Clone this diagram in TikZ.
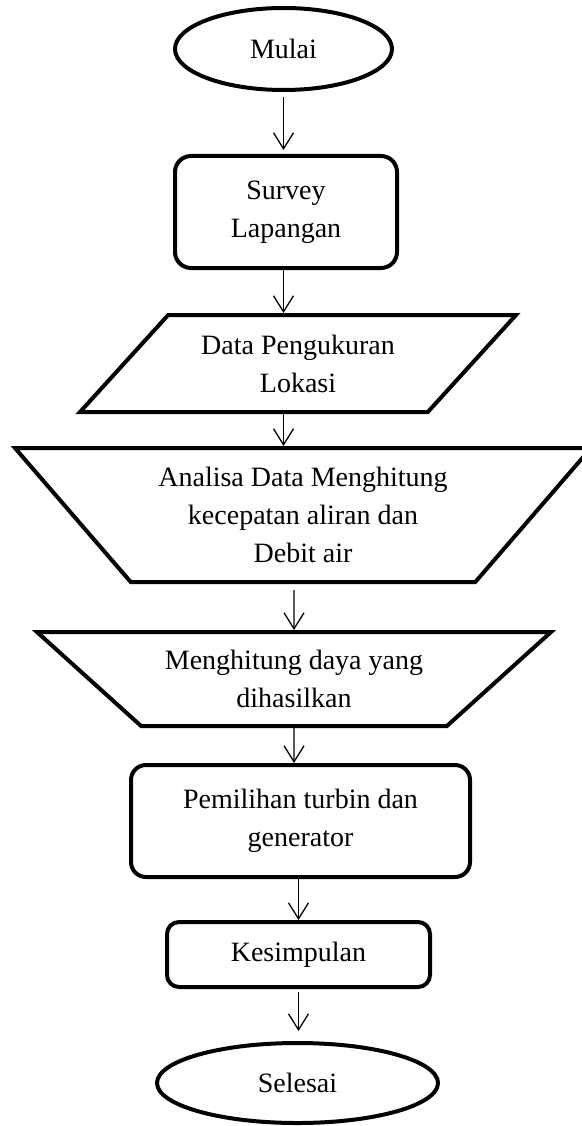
\documentclass[tikz,border=0pt]{standalone}
\usepackage{fontspec}
\setmainfont{Liberation Serif}
\usetikzlibrary{shapes.geometric,arrows.meta}
\tikzset{
  terminal/.style={ellipse,draw,line width=4pt,inner sep=0pt},
  proses/.style={rectangle,draw,line width=4pt,rounded corners=16pt,inner sep=0pt,align=center},
  miring/.style={trapezium,draw,line width=4pt,inner sep=0pt,trapezium stretches body,align=center},
  panah/.style={-{Straight Barb[length=16pt,width=20pt]},line width=1.3pt}
}
\begin{document}
\begin{tikzpicture}[x=1pt,y=-1pt,font=\fontsize{28}{38}\selectfont]
\useasboundingbox (0,0) rectangle (581,1126);
\node[terminal,minimum width=217pt,minimum height=82pt] (mulai) at (283.5,49) {Mulai};
\node[proses,minimum width=222pt,minimum height=112pt] (survey) at (286,212) {Survey\\Lapangan};
\node[miring,trapezium left angle=33.2,trapezium right angle=146.8,
  minimum width=436pt,minimum height=97pt] (data) at (298,363.5) {Data Pengukuran\\Lokasi};
\node[miring,trapezium left angle=140.4,trapezium right angle=140.4,
  minimum width=576pt,minimum height=134pt] (analisa) at (303,515) {Analisa Data Menghitung\\kecepatan aliran dan\\Debit air};
\node[miring,trapezium left angle=151,trapezium right angle=151,
  minimum width=514pt,minimum height=94pt] (daya) at (294,679) {Menghitung daya yang\\dihasilkan};
\node[proses,rounded corners=15pt,minimum width=339pt,minimum height=112pt] (pilih) at (300.5,821) {Pemilihan turbin dan\\generator};
\node[proses,rounded corners=12pt,minimum width=263pt,minimum height=65pt] (simpul) at (298.5,954.5) {Kesimpulan};
\node[terminal,minimum width=281pt,minimum height=80pt] (selesai) at (297.5,1083) {Selesai};

\draw[panah,shorten <=5pt,shorten >=4pt](mulai.south)--(mulai.south |- survey.north);
\draw[panah](survey.south -| mulai)--(mulai |- data.north);
\draw[panah](data.south -| mulai)--(mulai |- analisa.north);
\draw[panah,shorten <=6pt](analisa.south -| daya)--(daya.north);
\draw[panah](daya.south)--(daya |- pilih.north);
\draw[panah](pilih.south -| simpul)--(simpul.north);
\draw[panah,shorten <=3pt,shorten >=10pt](simpul.south)--(simpul |- selesai.north);

\end{tikzpicture}
\end{document}
